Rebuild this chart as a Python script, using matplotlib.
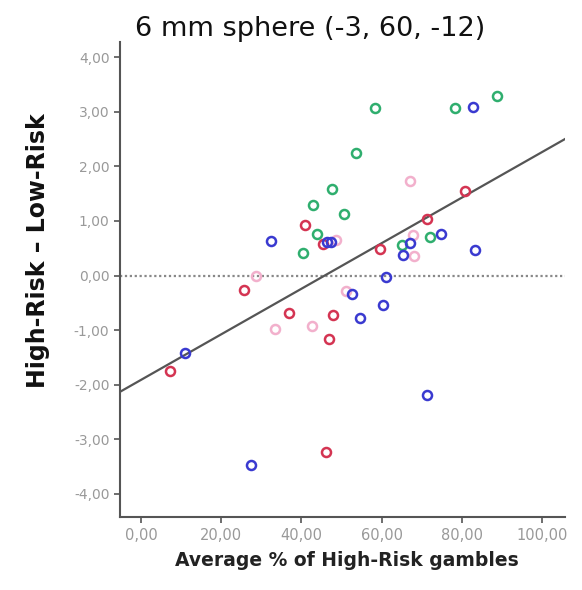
import matplotlib
matplotlib.use("Agg")
import matplotlib.pyplot as plt
from matplotlib.ticker import FuncFormatter

plt.rcParams['font.family'] = ['DejaVu Sans']

# ---- data ----
green_x = [58.4, 53.7, 47.7, 42.8, 50.7, 43.9, 40.4, 78.4, 88.8, 72.1, 65.1]
green_y = [3.07, 2.24, 1.58, 1.29, 1.13, 0.77, 0.42, 3.07, 3.28, 0.70, 0.56]

blue_x = [82.9, 32.5, 46.3, 47.3, 74.9, 83.3, 67.0, 65.3, 61.1, 60.3, 52.7, 54.7, 71.3, 27.3, 10.9]
blue_y = [3.08, 0.64, 0.62, 0.62, 0.76, 0.47, 0.60, 0.38, -0.02, -0.54, -0.33, -0.77, -2.18, -3.47, -1.41]

red_x = [40.8, 45.3, 59.5, 71.4, 80.8, 36.9, 48.0, 46.8, 25.6, 7.1, 46.2]
red_y = [0.93, 0.58, 0.49, 1.03, 1.54, -0.68, -0.73, -1.17, -0.27, -1.74, -3.23]

pink_x = [67.0, 48.7, 67.8, 68.2, 33.3, 42.7, 28.6, 51.2]
pink_y = [1.74, 0.66, 0.75, 0.35, -0.98, -0.93, -0.01, -0.29]

fit_intercept = -1.91
fit_slope = 0.0417

x_ticks = [0, 20, 40, 60, 80, 100]
y_ticks = [-4, -3, -2, -1, 0, 1, 2, 3, 4]

title = "6 mm sphere (-3, 60, -12)"
x_label = "Average % of High-Risk gambles"
y_label = "High-Risk \u2013 Low-Risk"

# ---- figure ----
fig = plt.figure(figsize=(5.82, 5.90), dpi=100)
ax = fig.add_axes([0.206, 0.124, 0.765, 0.805])

xlim = (-5.3, 105.8)
ylim = (-4.42, 4.28)
ax.set_xlim(*xlim)
ax.set_ylim(*ylim)

ax.axhline(0, color='#888888', lw=1.6, ls=(0, (1, 1.2)), zorder=1)

lx = [xlim[0], xlim[1]]
ly = [fit_intercept + fit_slope * v for v in lx]
ax.plot(lx, ly, color='#555555', lw=1.6, zorder=2)

ms = 6.5
mew = 1.8
ax.plot(pink_x, pink_y, 'o', ms=ms, mfc='none', mec='#f2b0cc', mew=mew, zorder=3)
ax.plot(green_x, green_y, 'o', ms=ms, mfc='none', mec='#2fae6e', mew=mew, zorder=4)
ax.plot(red_x, red_y, 'o', ms=ms, mfc='none', mec='#d43452', mew=mew, zorder=4)
ax.plot(blue_x, blue_y, 'o', ms=ms, mfc='none', mec='#3a3ad0', mew=mew, zorder=5)

for s in ['top', 'right']:
    ax.spines[s].set_visible(False)
for s in ['left', 'bottom']:
    ax.spines[s].set_color('#555555')
    ax.spines[s].set_linewidth(1.5)

fmt = FuncFormatter(lambda v, p: f"{v:.2f}".replace('.', ','))
ax.set_xticks(x_ticks)
ax.set_yticks(y_ticks)
ax.xaxis.set_major_formatter(fmt)
ax.yaxis.set_major_formatter(fmt)
ax.tick_params(direction='out', length=4, width=1.2, color='#555555',
               labelcolor='#999999', labelsize=10)
ax.tick_params(axis='x', labelsize=10.5, pad=4)

ax.set_xlabel(x_label, fontsize=13.5, fontweight='bold', color='#222222')
ax.xaxis.set_label_coords(0.51, -0.072)
ax.set_ylabel(y_label, fontsize=17, fontweight='bold', color='#111111')
ax.yaxis.set_label_coords(-0.157, 0.56)
fig.text(0.533, 0.950, title, ha='center', va='center', fontsize=19.5, color='#111111')

fig.savefig('out.png', dpi=100, facecolor='white')
